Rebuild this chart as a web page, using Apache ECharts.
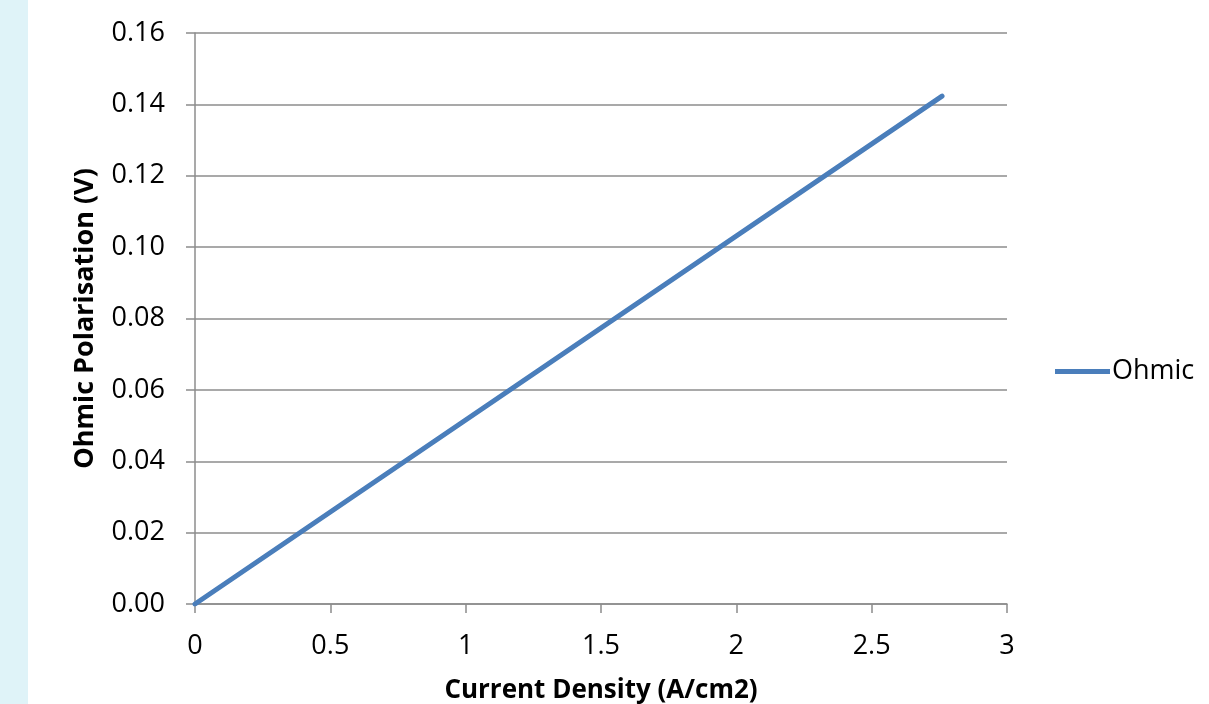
<!DOCTYPE html>
<html><head><meta charset="utf-8">
<script src="https://cdn.jsdelivr.net/npm/echarts@6/dist/echarts.min.js"></script>
<style>
html,body{margin:0;padding:0;background:#fff;}
#strip{position:absolute;left:0;top:0;width:28px;height:704px;background:#dff3f8;}
#c{position:absolute;left:0;top:0;width:1209px;height:704px;}
</style></head>
<body>
<div id="strip"></div>
<div id="c"></div>
<script>
const currentDensity = [0, 2.76];
const ohmicPolarisation = [0, 0.1423];
const seriesName = 'Ohmic';
const xTitle = 'Current Density (A/cm2)';
const yTitle = 'Ohmic Polarisation (V)';

const data = currentDensity.map((x, i) => [x, ohmicPolarisation[i]]);
const font = '"Open Sans", "Noto Sans", sans-serif';
const chart = echarts.init(document.getElementById('c'), null, {renderer: 'canvas'});
chart.setOption({
  backgroundColor: 'transparent',
  animation: false,
  grid: {left: 195, right: 202, top: 33, bottom: 100, containLabel: false, outerBoundsMode: 'none'},
  legend: {
    left: 1055, top: 358, orient: 'vertical', padding: 0,
    itemWidth: 55, itemHeight: 5, itemGap: 0,
    textStyle: {fontFamily: font, fontSize: 27, color: '#000', padding: [0,0,0,-3]},
    data: [{name: seriesName, icon: 'path://M0,0 L55,0 L55,5 L0,5 Z'}]
  },
  xAxis: {
    type: 'value', min: 0, max: 3, interval: 0.5,
    name: xTitle, nameLocation: 'middle', nameGap: 74,
    nameTextStyle: {fontFamily: font, fontSize: 26, fontWeight: 'bold', color: '#000'},
    axisLine: {show: true, lineStyle: {color: '#8c8c8c', width: 1.5}},
    axisTick: {show: true, inside: false, length: 9, lineStyle: {color: '#8c8c8c', width: 1.5}},
    axisLabel: {fontFamily: font, fontSize: 27, color: '#000', margin: 29,
      formatter: v => String(v)},
    splitLine: {show: false}
  },
  yAxis: {
    type: 'value', min: 0, max: 0.16, interval: 0.02,
    name: yTitle, nameLocation: 'middle', nameGap: 96, nameRotate: 90,
    nameTextStyle: {fontFamily: font, fontSize: 27, fontWeight: 'bold', color: '#000'},
    axisLine: {show: true, lineStyle: {color: '#8c8c8c', width: 1.5}},
    axisTick: {show: true, inside: false, length: 9, lineStyle: {color: '#8c8c8c', width: 1.5}},
    axisLabel: {fontFamily: font, fontSize: 27, color: '#000', margin: 30,
      formatter: v => v.toFixed(2)},
    splitLine: {show: true, lineStyle: {color: '#8c8c8c', width: 1.5}}
  },
  series: [{
    name: seriesName, type: 'line', data: data,
    showSymbol: false, symbol: 'none',
    lineStyle: {color: '#4a7ebb', width: 5, cap: 'round'},
    itemStyle: {color: '#4a7ebb'}
  }]
});
</script>
</body></html>
